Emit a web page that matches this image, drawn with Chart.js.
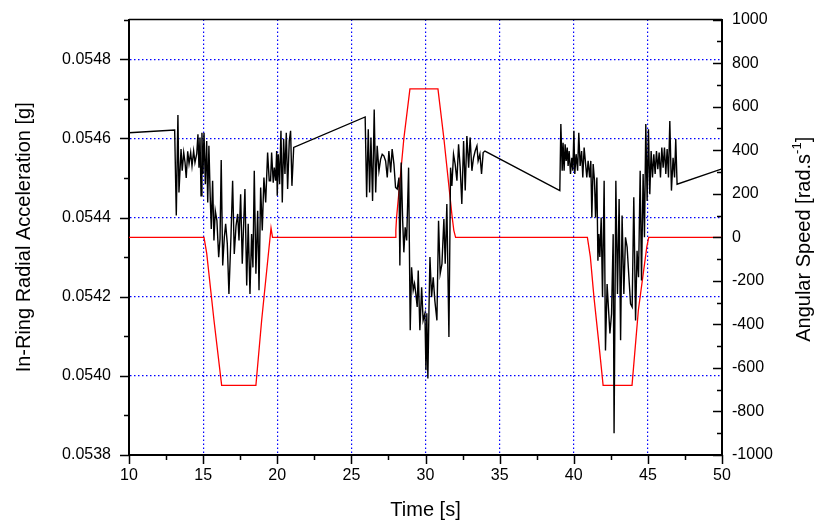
<!DOCTYPE html>
<html>
<head>
<meta charset="utf-8">
<script src="https://cdn.jsdelivr.net/npm/chart.js@4/dist/chart.umd.min.js"></script>
<style>
  html, body { margin: 0; padding: 0; background: #ffffff; }
  #wrap { width: 817px; height: 524px; }
</style>
</head>
<body>
<div id="wrap"><canvas id="plot" width="817" height="524"></canvas></div>
<script>
// time [s] of the acceleration samples
const accTime = [
  10, 13.08, 13.19, 13.30, 13.37, 13.51, 13.59, 13.69, 13.78, 13.86, 13.96, 14.05, 14.16, 14.25, 14.36, 14.45,
  14.57, 14.65, 14.72, 14.79, 14.86, 14.92, 14.99, 15.06, 15.15, 15.24, 15.31, 15.39, 15.48, 15.55, 15.64, 15.73,
  15.82, 15.93, 16.05, 16.14, 16.22, 16.32, 16.43, 16.52, 16.63, 16.74, 16.88, 16.99, 17.10, 17.22, 17.33, 17.42,
  17.53, 17.64, 17.75, 17.82, 17.94, 18.04, 18.16, 18.27, 18.36, 18.45, 18.56, 18.68, 18.77, 18.88, 18.99, 19.10,
  19.22, 19.35, 19.46, 19.55, 19.62, 19.73, 19.80, 19.89, 19.96, 20.00, 20.07, 20.16, 20.25, 20.34, 20.43, 20.52,
  20.61, 20.70, 20.81, 20.90, 20.99, 21.11, 25.93,
  26.03, 26.14, 26.23, 26.32, 26.43, 26.54, 26.64, 26.74, 26.86, 26.97, 27.08, 27.19, 27.31, 27.42, 27.53, 27.65,
  27.75, 27.87, 27.98, 28.09, 28.21, 28.27, 28.36, 28.46, 28.54, 28.63, 28.73, 28.86, 28.97, 29.06, 29.17, 29.26,
  29.35, 29.44, 29.51, 29.62, 29.74, 29.84, 29.96, 30.03, 30.09, 30.16, 30.23, 30.30, 30.41, 30.52, 30.63, 30.77,
  30.88, 30.99, 31.11, 31.24, 31.33, 31.44, 31.58, 31.69, 31.78, 31.89, 32.00, 32.12, 32.23, 32.34, 32.45, 32.57,
  32.68, 32.79, 32.91, 33.01, 33.13, 33.24, 33.35, 33.47, 33.55, 33.67, 33.78, 33.89, 34.01, 39.06,
  39.13, 39.22, 39.28, 39.35, 39.42, 39.49, 39.56, 39.62, 39.69, 39.78, 39.87, 39.94, 40.01, 40.07, 40.16, 40.26,
  40.34, 40.43, 40.53, 40.61, 40.70, 40.80, 40.88, 40.97, 41.07, 41.15, 41.22, 41.31, 41.40, 41.47, 41.56, 41.63,
  41.69, 41.76, 41.85, 41.94, 42.05, 42.14, 42.25, 42.35, 42.44, 42.55, 42.66, 42.72, 42.84, 42.95, 43.06, 43.16,
  43.26, 43.38, 43.49, 43.60, 43.72, 43.83, 43.94, 44.05, 44.17, 44.27, 44.37, 44.48, 44.57, 44.68, 44.77, 44.86,
  44.95, 45.04, 45.13, 45.22, 45.31, 45.40, 45.49, 45.58, 45.67, 45.76, 45.85, 45.94, 46.03, 46.12, 46.21, 46.30,
  46.39, 46.48, 46.59, 46.70, 46.80, 46.88, 46.97, 50
];

// in-ring radial acceleration [g]
const accValue = [
  0.054614, 0.054621, 0.054405, 0.054659, 0.054463, 0.054573, 0.054518, 0.054564, 0.054539, 0.054500, 0.054567, 0.054536, 0.054564, 0.054530, 0.054568, 0.054539,
  0.054561, 0.054610, 0.054526, 0.054602, 0.054455, 0.054614, 0.054510, 0.054614, 0.054484, 0.054593, 0.054438, 0.054581, 0.054451, 0.054371, 0.054493, 0.054342,
  0.054417, 0.054392, 0.054300, 0.054346, 0.054545, 0.054279, 0.054350, 0.054384, 0.054334, 0.054207, 0.054354, 0.054493, 0.054308, 0.054379, 0.054409, 0.054342,
  0.054459, 0.054283, 0.054400, 0.054472, 0.054228, 0.054384, 0.054207, 0.054358, 0.054274, 0.054518, 0.054258, 0.054417, 0.054216, 0.054476, 0.054367, 0.054501,
  0.054438, 0.054564, 0.054493, 0.054493, 0.054564, 0.054488, 0.054526, 0.054493, 0.054568, 0.054455, 0.054560, 0.054484, 0.054619, 0.054438, 0.054598, 0.054510,
  0.054614, 0.054472, 0.054593, 0.054619, 0.054480, 0.054577, 0.054654,
  0.054451, 0.054623, 0.054463, 0.054602, 0.054442, 0.054673, 0.054463, 0.054581, 0.054518, 0.054547, 0.054560, 0.054556, 0.054543, 0.054501, 0.054568, 0.054514,
  0.054573, 0.054535, 0.054476, 0.054472, 0.054501, 0.054279, 0.054539, 0.054392, 0.054312, 0.054375, 0.054342, 0.054526, 0.054115, 0.054274, 0.054216, 0.054233,
  0.054207, 0.054174, 0.054266, 0.054115, 0.054224, 0.054140, 0.054158, 0.054014, 0.054158, 0.053993, 0.054158, 0.054300, 0.054199, 0.054249, 0.054190, 0.054140,
  0.054392, 0.054258, 0.054283, 0.054396, 0.054283, 0.054434, 0.054098, 0.054526, 0.054480, 0.054560, 0.054535, 0.054493, 0.054585, 0.054526, 0.054434, 0.054593,
  0.054468, 0.054606, 0.054526, 0.054602, 0.054518, 0.054551, 0.054568, 0.054581, 0.054543, 0.054560, 0.054510, 0.054564, 0.054568, 0.054468,
  0.054636, 0.054518, 0.054589, 0.054518, 0.054585, 0.054543, 0.054577, 0.054530, 0.054568, 0.054510, 0.054551, 0.054518, 0.054619, 0.054510, 0.054560, 0.054518,
  0.054614, 0.054530, 0.054568, 0.054501, 0.054577, 0.054535, 0.054501, 0.054543, 0.054501, 0.054543, 0.054400, 0.054535, 0.054493, 0.054400, 0.054501, 0.054291,
  0.054358, 0.054300, 0.054400, 0.054199, 0.054493, 0.054064, 0.054232, 0.054165, 0.054107, 0.054157, 0.054358, 0.053855, 0.054493, 0.054207, 0.054447, 0.054090,
  0.054405, 0.054207, 0.054350, 0.054325, 0.054249, 0.054182, 0.054174, 0.054451, 0.054140, 0.054316, 0.054249, 0.054518, 0.054241, 0.054510, 0.054350, 0.054636,
  0.054442, 0.054623, 0.054459, 0.054568, 0.054501, 0.054560, 0.054510, 0.054568, 0.054522, 0.054564, 0.054501, 0.054577, 0.054526, 0.054577, 0.054510, 0.054573,
  0.054501, 0.054644, 0.054468, 0.054551, 0.054501, 0.054598, 0.054484, 0.054523
];

// angular speed [rad/s]
const speedTime = [10, 15.06, 15.24, 15.73, 16.25, 18.56, 18.95, 19.58, 19.68,
  27.96, 28.00, 28.05, 28.54, 28.95, 30.84, 31.24, 31.80, 31.91, 32.03,
  40.92, 41.12, 41.36, 41.69, 41.98, 43.93, 44.36, 44.93, 45.06, 50];
const speedValue = [0, 0, -73, -380, -680, -680, -380, 43, 0,
  0, 32, 92, 454, 682, 682, 454, 92, 32, 0,
  0, -90, -273, -485, -680, -680, -334, -43, 0, 0];

const fontFamily = "'Liberation Sans', Arial, sans-serif";
const gridBlue = '#0000ff';
const clear = 'rgba(0,0,0,0)';

const isMajor = {
  x: v => Math.abs(v % 5) < 1e-9,
  y: v => Math.round(v * 10000) % 2 === 0,
  y2: v => v % 200 === 0
};

const accPoints = accTime.map((t, i) => ({ x: t, y: accValue[i] }));
const speedPoints = speedTime.map((t, i) => ({ x: t, y: speedValue[i] }));

// frame on top, major/minor tick marks, right title read bottom-to-top
const frame = {
  id: 'frame',
  afterDraw(chart) {
    const a = chart.chartArea;
    const c = chart.ctx;
    c.save();
    c.strokeStyle = '#000';
    c.lineWidth = 1.5;
    c.beginPath();
    c.moveTo(a.left, a.top);
    c.lineTo(a.right, a.top);
    c.stroke();

    ['x', 'y', 'y2'].forEach(id => {
      const s = chart.scales[id];
      s.ticks.forEach(t => {
        const len = isMajor[id](t.value) ? 9 : 5;
        const p = Math.round(s.getPixelForValue(t.value)) + 0.5;
        c.beginPath();
        if (id === 'x') { c.moveTo(p, s.top); c.lineTo(p, s.top + len); }
        else if (id === 'y') { c.moveTo(s.right, p); c.lineTo(s.right - len, p); }
        else { c.moveTo(s.left, p); c.lineTo(s.left - len, p); }
        c.stroke();
      });
    });

    const main = 'Angular Speed [rad.s';
    const sup = '-1';
    const end = ']';
    const f1 = '20px ' + fontFamily;
    const f2 = '13px ' + fontFamily;
    c.font = f1;
    const w1 = c.measureText(main).width;
    const w3 = c.measureText(end).width;
    c.font = f2;
    const w2 = c.measureText(sup).width;
    const total = w1 + w2 + w3;
    c.translate(810, (a.top + a.bottom) / 2 + 2);
    c.rotate(-Math.PI / 2);
    c.fillStyle = '#000';
    c.textBaseline = 'alphabetic';
    c.textAlign = 'left';
    const x0 = -total / 2;
    c.font = f1;
    c.fillText(main, x0, 0);
    c.font = f2;
    c.fillText(sup, x0 + w1, -9);
    c.font = f1;
    c.fillText(end, x0 + w1 + w2, 0);
    c.restore();
  }
};

new Chart(document.getElementById('plot'), {
  type: 'line',
  data: {
    datasets: [
      {
        label: 'Acceleration',
        data: accPoints,
        yAxisID: 'y',
        borderColor: '#000000',
        borderWidth: 1.4,
        pointRadius: 0,
        tension: 0
      },
      {
        label: 'Angular Speed',
        data: speedPoints,
        yAxisID: 'y2',
        borderColor: '#ff0000',
        borderWidth: 1.3,
        pointRadius: 0,
        tension: 0
      }
    ]
  },
  options: {
    responsive: false,
    animation: false,
    layout: { padding: { top: 18, left: 0, right: 0, bottom: 0 } },
    plugins: { legend: { display: false }, tooltip: { enabled: false } },
    scales: {
      x: {
        type: 'linear',
        min: 10,
        max: 50,
        afterFit: s => { s.height = 69; },
        ticks: {
          stepSize: 2.5,
          autoSkip: false,
          maxRotation: 0,
          padding: 3,
          color: '#000',
          font: { family: fontFamily, size: 16 },
          callback: v => (isMajor.x(v) ? String(v) : '')
        },
        grid: {
          color: ctx => (ctx.tick && isMajor.x(ctx.tick.value) ? gridBlue : clear),
          lineWidth: 1.2,
          tickColor: clear,
          tickLength: 8
        },
        border: { display: true, color: '#000', width: 2, dash: [1.5, 2.5] },
        title: {
          display: true,
          text: 'Time [s]',
          color: '#000',
          font: { family: fontFamily, size: 20 },
          padding: { top: 0, bottom: 2 }
        }
      },
      y: {
        type: 'linear',
        position: 'left',
        min: 0.0538,
        max: 0.0549,
        afterFit: s => { s.width = 129; },
        ticks: {
          stepSize: 0.0001,
          autoSkip: false,
          padding: 10,
          color: '#000',
          font: { family: fontFamily, size: 16 },
          callback: v => (isMajor.y(v) ? (Math.round(v * 10000) / 10000).toFixed(4) : '')
        },
        grid: {
          color: ctx => (ctx.tick && isMajor.y(ctx.tick.value) ? gridBlue : clear),
          lineWidth: 1.2,
          tickColor: clear,
          tickLength: 8
        },
        border: { display: true, color: '#000', width: 2, dash: [1.5, 2.5] },
        title: {
          display: true,
          text: 'In-Ring Radial Acceleration [g]',
          color: '#000',
          font: { family: fontFamily, size: 20 },
          padding: { top: 12, bottom: 0 }
        }
      },
      y2: {
        type: 'linear',
        position: 'right',
        min: -1000,
        max: 1000,
        afterFit: s => { s.width = 95; },
        ticks: {
          stepSize: 100,
          autoSkip: false,
          padding: 2,
          color: '#000',
          font: { family: fontFamily, size: 16 },
          callback: v => (isMajor.y2(v) ? String(v) : '')
        },
        grid: {
          drawOnChartArea: false,
          tickColor: clear,
          tickLength: 8
        },
        border: { display: true, color: '#000', width: 2 }
      }
    }
  },
  plugins: [frame]
});
</script>
</body>
</html>
